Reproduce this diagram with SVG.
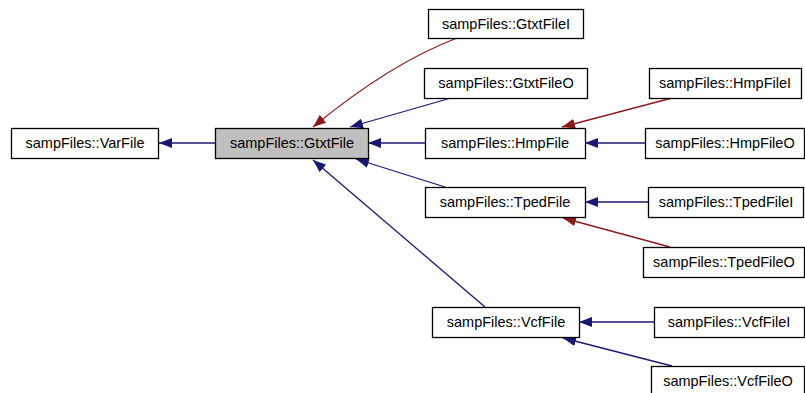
<svg xmlns="http://www.w3.org/2000/svg" width="805" height="393" viewBox="0 0 805 393">
<style>
.n rect{fill:#fff;stroke:#000;stroke-width:1.3}
.n rect.cur{fill:#bfbfbf}
.n text{font-family:"Liberation Sans",Arial,sans-serif;font-size:14.5px;fill:#000;text-anchor:middle}
.e path{fill:none;stroke-width:1.3}
.b{stroke:#191970;marker-end:url(#ab)}
.r{stroke:#8b1a1a;marker-end:url(#ar)}
</style>
<defs>
<marker id="ab" viewBox="0 0 13 10" refX="13" refY="5" markerWidth="13" markerHeight="10" markerUnits="userSpaceOnUse" orient="auto"><path d="M0,0 L13,5 L0,10 z" fill="#191970"/></marker>
<marker id="ar" viewBox="0 0 13 10" refX="13" refY="5" markerWidth="13" markerHeight="10" markerUnits="userSpaceOnUse" orient="auto"><path d="M0,0 L13,5 L0,10 z" fill="#8b1a1a"/></marker>
</defs>
<rect width="805" height="393" fill="#fff"/>
<g class="e" id="edges">
<path class="b" d="M215,143 L159,143"/>
<path class="r" d="M457,38 C415,54 370,80 313,127"/>
<path class="b" d="M451,98 L350,127"/>
<path class="b" d="M425,143 L368,143"/>
<path class="b" d="M445,187 L356,159"/>
<path class="b" d="M485,307 L313,160"/>
<path class="r" d="M672,98 L562,127"/>
<path class="b" d="M645,143 L585,143"/>
<path class="b" d="M648,202 L585,202"/>
<path class="r" d="M670,247 L563,218"/>
<path class="b" d="M654,322 L579,322"/>
<path class="b" d="M672,366 L563,338"/>
</g>
<g class="n" id="VarFile"><rect x="11.5" y="128.5" width="147" height="30"/><text x="85" y="148">sampFiles::VarFile</text></g>
<g class="n" id="GtxtFile"><rect class="cur" x="215.5" y="128.5" width="153" height="30"/><text x="292" y="148">sampFiles::GtxtFile</text></g>
<g class="n" id="GtxtFileI"><rect x="428.5" y="9.5" width="155" height="29"/><text x="506" y="29">sampFiles::GtxtFileI</text></g>
<g class="n" id="GtxtFileO"><rect x="424.5" y="68.5" width="163" height="30"/><text x="506" y="88">sampFiles::GtxtFileO</text></g>
<g class="n" id="HmpFile"><rect x="425.5" y="128.5" width="160" height="30"/><text x="505" y="148">sampFiles::HmpFile</text></g>
<g class="n" id="HmpFileI"><rect x="649.5" y="68.5" width="152" height="30"/><text x="725" y="88">sampFiles::HmpFileI</text></g>
<g class="n" id="HmpFileO"><rect x="645.5" y="128.5" width="159" height="30"/><text x="725" y="148">sampFiles::HmpFileO</text></g>
<g class="n" id="TpedFile"><rect x="425.5" y="187.5" width="160" height="30"/><text x="505" y="207">sampFiles::TpedFile</text></g>
<g class="n" id="TpedFileI"><rect x="648.5" y="187.5" width="155" height="30"/><text x="726" y="207">sampFiles::TpedFileI</text></g>
<g class="n" id="TpedFileO"><rect x="643.5" y="247.5" width="161" height="30"/><text x="724" y="267">sampFiles::TpedFileO</text></g>
<g class="n" id="VcfFile"><rect x="432.5" y="307.5" width="147" height="30"/><text x="506" y="327">sampFiles::VcfFile</text></g>
<g class="n" id="VcfFileI"><rect x="654.5" y="307.5" width="150" height="30"/><text x="729" y="327">sampFiles::VcfFileI</text></g>
<g class="n" id="VcfFileO"><rect x="651.5" y="366.5" width="153" height="30"/><text x="728" y="386">sampFiles::VcfFileO</text></g>
</svg>
